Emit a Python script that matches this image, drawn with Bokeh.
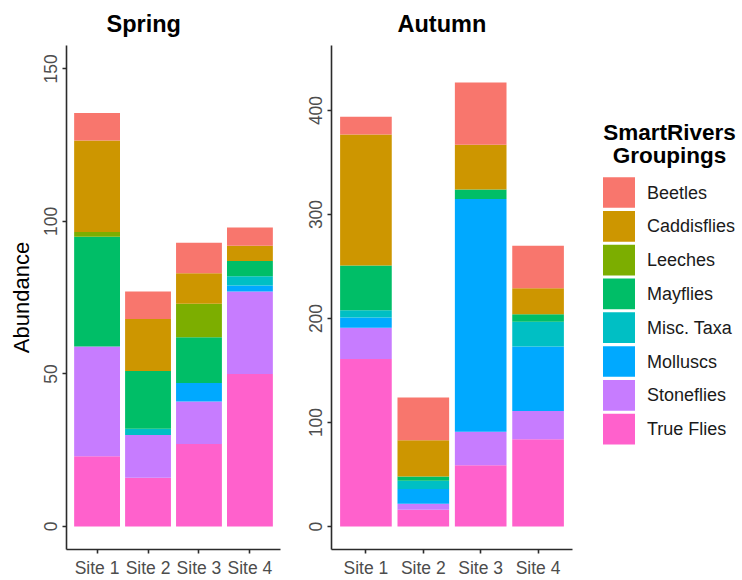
from bokeh.plotting import figure
from bokeh.layouts import row
from bokeh.models import Range1d, FixedTicker, ColumnDataSource
from bokeh.embed import file_html
from bokeh.resources import INLINE
from bokeh.core.properties import value

# ---------------- data ----------------
sites = ["Site 1", "Site 2", "Site 3", "Site 4"]
groups = ["Beetles", "Caddisflies", "Leeches", "Mayflies", "Misc. Taxa",
          "Molluscs", "Stoneflies", "True Flies"]
colors = ["#F8766D", "#CD9600", "#7CAE00", "#00BE67", "#00BFC4",
          "#00A9FF", "#C77CFF", "#FF61CC"]

spring_beetles = [9, 9, 10, 6]
spring_caddisflies = [30, 17, 10, 5]
spring_leeches = [1.5, 0, 11, 0]
spring_mayflies = [36, 19, 15, 5]
spring_misc_taxa = [0, 2, 0, 3]
spring_molluscs = [0, 0, 6, 2]
spring_stoneflies = [36, 14, 14, 27]
spring_true_flies = [23, 16, 27, 50]

autumn_beetles = [17, 41, 60, 41]
autumn_caddisflies = [126, 35, 43, 25]
autumn_leeches = [0, 0, 0, 0]
autumn_mayflies = [43, 4, 9, 7]
autumn_misc_taxa = [7, 8, 0, 24]
autumn_molluscs = [10, 14, 224, 62]
autumn_stoneflies = [30, 6, 32, 27]
autumn_true_flies = [161, 16, 59, 84]

spring_ticks = [0, 50, 100, 150]
autumn_ticks = [0, 100, 200, 300, 400]

spring_values = [spring_beetles, spring_caddisflies, spring_leeches, spring_mayflies,
                 spring_misc_taxa, spring_molluscs, spring_stoneflies, spring_true_flies]
autumn_values = [autumn_beetles, autumn_caddisflies, autumn_leeches, autumn_mayflies,
                 autumn_misc_taxa, autumn_molluscs, autumn_stoneflies, autumn_true_flies]

FONT = "Liberation Sans"
H = 580
TOP = 45
BOTTOM = 31
site_x = list(range(1, len(sites) + 1))


def panel(title, vals, ticks, yr, width, bl, br, title_offset, ylabel=None):
    p = figure(width=width, height=H, x_range=Range1d(0.4, len(sites) + 0.6),
               y_range=yr, toolbar_location=None, output_backend="svg",
               min_border_left=bl, min_border_right=br, min_border_top=TOP,
               min_border_bottom=BOTTOM, outline_line_color=None)
    data = {"x": site_x}
    for g, v in zip(groups, vals):
        data[g] = v
    src = ColumnDataSource(data)
    order = groups[::-1]
    cols = colors[::-1]
    p.vbar_stack(order, x="x", width=0.9, color=cols, line_color=None, source=src)

    p.grid.visible = False
    p.background_fill_color = "white"
    p.border_fill_color = "white"

    p.title.text = title
    p.title.align = "left"
    p.title.offset = title_offset
    p.title.text_font = FONT
    p.title.text_font_size = "23.5px"
    p.title.text_font_style = "bold"
    p.title.text_color = "black"
    p.title.standoff = 17

    for ax in (p.xaxis[0], p.yaxis[0]):
        ax.axis_line_color = "#2B2B2B"
        ax.axis_line_width = 1.6
        ax.major_tick_line_color = "#2B2B2B"
        ax.major_tick_line_width = 1.6
        ax.major_tick_out = 4
        ax.major_tick_in = 0
        ax.minor_tick_line_color = None
        ax.major_label_text_font = FONT
        ax.major_label_text_font_size = "17.5px"
        ax.major_label_text_color = "#4D4D4D"

    p.xaxis.ticker = FixedTicker(ticks=site_x)
    p.xaxis.major_label_overrides = {x: s for x, s in zip(site_x, sites)}
    p.xaxis.major_label_standoff = 4

    p.yaxis.ticker = FixedTicker(ticks=ticks)
    p.yaxis.major_label_orientation = "vertical"
    p.yaxis.major_label_standoff = 5
    if ylabel:
        p.yaxis.axis_label = ylabel
        p.yaxis.axis_label_text_font = FONT
        p.yaxis.axis_label_text_font_size = "22px"
        p.yaxis.axis_label_text_font_style = "normal"
        p.yaxis.axis_label_text_color = "black"
        p.yaxis.axis_label_standoff = 8
    return p


p1 = panel("Spring", spring_values, spring_ticks, Range1d(-7.54, 157.65),
           width=300, bl=66, br=20, title_offset=40, ylabel="Abundance")
p2 = panel("Autumn", autumn_values, autumn_ticks, Range1d(-22.1, 462.5),
           width=285, bl=31, br=13, title_offset=66)

# ---------------- legend panel ----------------
LW = 155
p3 = figure(width=LW, height=H, x_range=Range1d(585, 585 + LW),
            y_range=Range1d(H - BOTTOM, TOP),
            toolbar_location=None, output_backend="svg",
            min_border_left=0, min_border_right=0, min_border_top=TOP,
            min_border_bottom=BOTTOM,
            x_axis_location=None, y_axis_location=None, outline_line_color=None)
p3.grid.visible = False
key_y = [192 + 33.8 * i for i in range(len(groups))]
p3.rect(x=[618.5] * len(groups), y=key_y, width=32, height=30.7,
        width_units="screen", height_units="screen", fill_color=colors,
        line_color=None)
p3.text(x=[646.5] * len(groups), y=key_y, text=groups, text_font=value(FONT),
        text_font_size="18px", text_baseline="middle", text_align="left",
        text_color="#1A1A1A")
p3.text(x=[669, 669], y=[131.5, 155], text=["SmartRivers", "Groupings"],
        text_font=value(FONT), text_font_size="22.5px", text_font_style="bold",
        text_baseline="middle", text_align="center", text_color="black")

layout = row(p1, p2, p3)
open("out.html", "w").write(file_html(layout, INLINE))
